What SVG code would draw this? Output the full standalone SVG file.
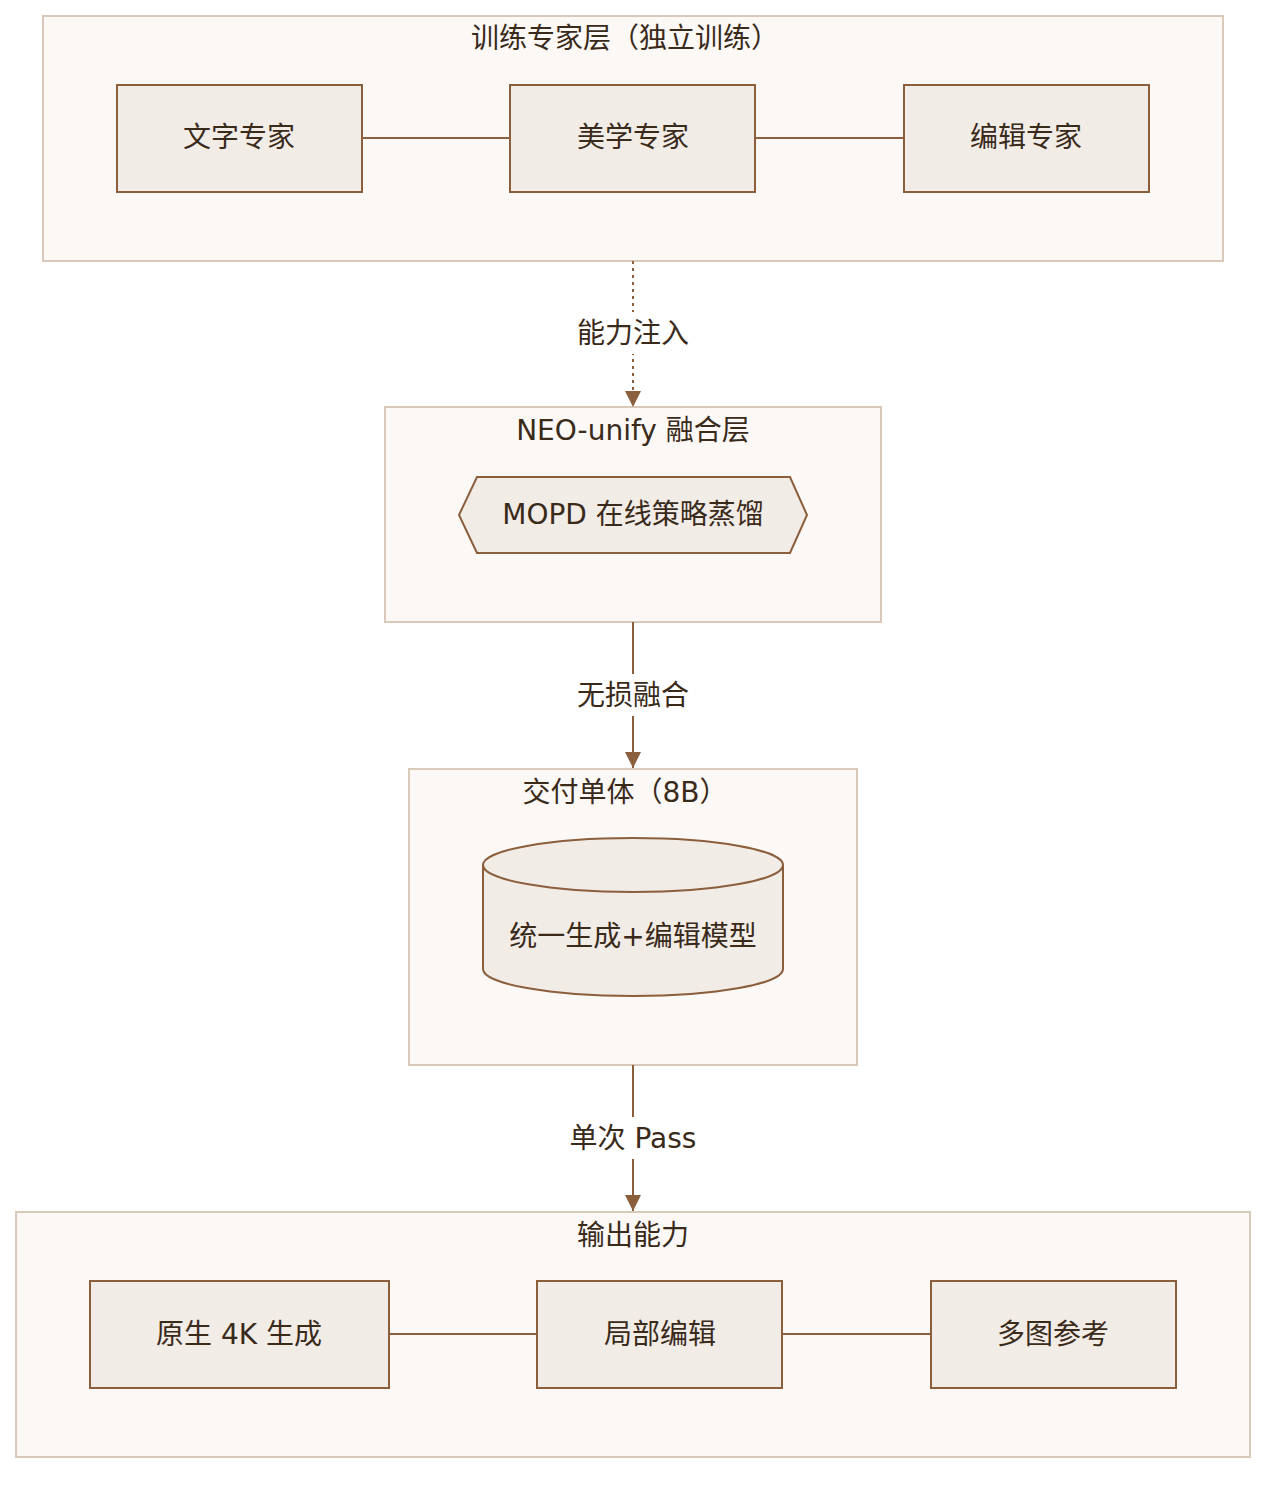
<svg xmlns="http://www.w3.org/2000/svg" width="1282" height="1492" viewBox="0 0 1282 1492">
<defs>
<style>
text{font-family:"DejaVu Sans","Noto Sans CJK SC",sans-serif;fill:#3a2a1a;text-anchor:middle;dominant-baseline:central}
.c{fill:#fbf8f5;stroke:#d9c9b9;stroke-width:2}
.n{fill:#f2ece7;stroke:#8b5e3c;stroke-width:2}
.t{font-size:28px}
.e{stroke:#8b5e3c;stroke-width:2;fill:none}
.lb{fill:#ffffff}
</style>
<marker id="ah" viewBox="0 0 10 10" refX="10" refY="5" markerWidth="16" markerHeight="16" markerUnits="userSpaceOnUse" orient="auto"><path d="M0,0L10,5L0,10z" fill="#8b5e3c"/></marker>
</defs>
<rect width="1282" height="1492" fill="#fff"/>
<g id="layer-train"><rect class="c" x="43" y="16" width="1180" height="245"/><text class="t" x="625" y="38">训练专家层（独立训练）</text></g>
<g id="layer-neo"><rect class="c" x="385" y="407" width="496" height="215"/><text class="t" x="633" y="430">NEO-unify 融合层</text></g>
<g id="layer-single"><rect class="c" x="409" y="769" width="448" height="296"/><text class="t" x="625" y="792">交付单体（8B）</text></g>
<g id="layer-out"><rect class="c" x="16" y="1212" width="1234" height="245"/><text class="t" x="633" y="1235">输出能力</text></g>
<g id="connectors">
<line class="e" x1="362" y1="138" x2="510" y2="138"/>
<line class="e" x1="755" y1="138" x2="904" y2="138"/>
<line class="e" x1="389" y1="1334" x2="537" y2="1334"/>
<line class="e" x1="782" y1="1334" x2="931" y2="1334"/>
<line class="e" x1="633" y1="261" x2="633" y2="407" stroke-dasharray="3,4" marker-end="url(#ah)"/>
<line class="e" x1="633" y1="622" x2="633" y2="768" marker-end="url(#ah)"/>
<line class="e" x1="633" y1="1065" x2="633" y2="1211" marker-end="url(#ah)"/>
<rect class="lb" x="565" y="312" width="136" height="42"/><text class="t" x="633" y="333">能力注入</text>
<rect class="lb" x="565" y="674" width="136" height="42"/><text class="t" x="633" y="695">无损融合</text>
<rect class="lb" x="563" y="1117" width="140" height="42"/><text class="t" x="633" y="1138">单次 Pass</text>
</g>
<g id="n-text"><rect class="n" x="117" y="85" width="245" height="107"/><text class="t" x="239" y="137">文字专家</text></g>
<g id="n-aes"><rect class="n" x="510" y="85" width="245" height="107"/><text class="t" x="633" y="137">美学专家</text></g>
<g id="n-edit"><rect class="n" x="904" y="85" width="245" height="107"/><text class="t" x="1026" y="137">编辑专家</text></g>
<g id="n-mopd"><polygon class="n" points="459,515 477,477 790,477 807,515 790,553 477,553"/><text class="t" x="633" y="514">MOPD 在线策略蒸馏</text></g>
<g id="n-model"><path class="n" d="M483,865 V969 A150,27 0 0 0 783,969 V865"/><ellipse class="n" cx="633" cy="865" rx="150" ry="27"/><text class="t" x="633" y="936">统一生成+编辑模型</text></g>
<g id="n-4k"><rect class="n" x="90" y="1281" width="299" height="107"/><text class="t" x="239" y="1334">原生 4K 生成</text></g>
<g id="n-local"><rect class="n" x="537" y="1281" width="245" height="107"/><text class="t" x="660" y="1334">局部编辑</text></g>
<g id="n-multi"><rect class="n" x="931" y="1281" width="245" height="107"/><text class="t" x="1053" y="1334">多图参考</text></g>
</svg>
